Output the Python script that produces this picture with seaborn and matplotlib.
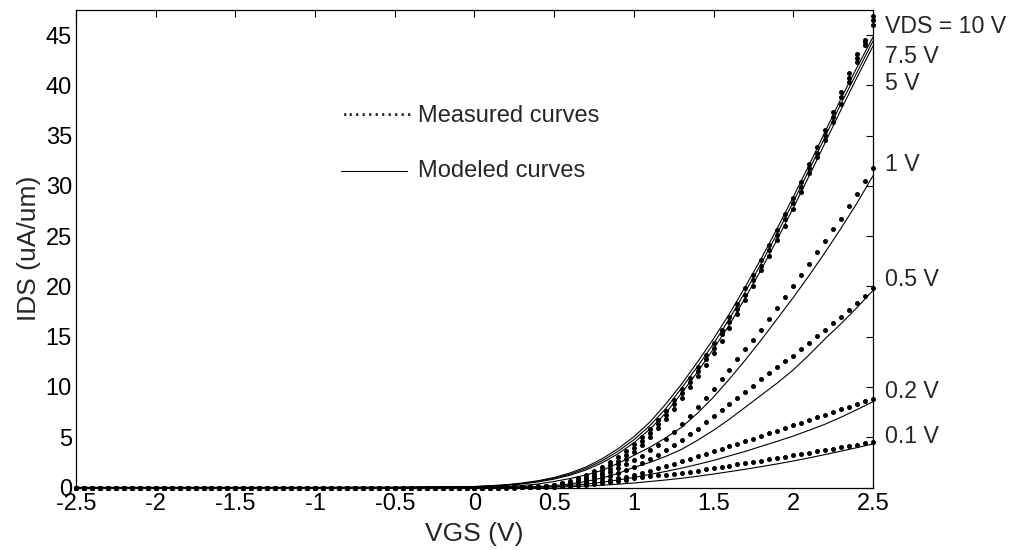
import numpy as np
import pandas as pd
import matplotlib
matplotlib.use("Agg")
import matplotlib.pyplot as plt
import seaborn as sns

# drain voltages (V) for each curve
vds_values = ["10", "7.5", "5", "1", "0.5", "0.2", "0.1"]
vds_labels = ["VDS = 10 V", "7.5 V", "5 V", "1 V", "0.5 V", "0.2 V", "0.1 V"]
label_y = [45.85, 42.9, 40.15, 32.1, 20.65, 9.53, 5.06]

# measured sweep: VGS from -2.5 to 2.5 in 0.05 V steps
vgs_meas = np.round(np.linspace(-2.5, 2.5, 101), 2)
off_state = [0, 0, 0, 0, 0, 0, 0, 0, 0, 0, 0, 0, 0, 0, 0, 0, 0, 0, 0, 0, 0, 0, 0, 0, 0,
             0, 0, 0, 0, 0, 0, 0, 0, 0, 0, 0, 0, 0, 0, 0, 0, 0, 0, 0, 0, 0, 0, 0, 0, 0]

meas_10 = off_state + [0, 0, 0, 0.01, 0.01, 0.02, 0.04, 0.07, 0.12, 0.2, 0.3,
                       0.45, 0.65, 0.9, 1.2, 1.6, 2.0, 2.5, 3.0, 3.6, 4.3,
                       5.0, 5.8, 6.7, 7.6, 8.7, 9.8, 10.9, 12.0, 13.2, 14.4,
                       15.7, 17.0, 18.3, 19.8, 21.1, 22.6, 24.1, 25.6, 27.2, 28.8,
                       30.4, 32.2, 33.9, 35.6, 37.4, 39.3, 41.2, 43.1, 44.5, 46.9]
meas_7p5 = off_state + [0, 0, 0, 0.01, 0.01, 0.02, 0.03, 0.06, 0.1, 0.17, 0.27,
                        0.4, 0.55, 0.75, 1.0, 1.35, 1.7, 2.2, 2.6, 3.2, 3.9,
                        4.6, 5.4, 6.3, 7.2, 8.3, 9.4, 10.5, 11.6, 12.8, 13.9,
                        15.3, 16.5, 17.8, 19.2, 20.6, 22.0, 23.6, 25.1, 26.7, 28.3,
                        29.9, 31.8, 33.3, 35.1, 36.9, 38.8, 40.7, 42.7, 44.3, 46.5]
meas_5 = off_state + [0, 0, 0, 0, 0.01, 0.015, 0.025, 0.05, 0.08, 0.14, 0.22,
                      0.3, 0.45, 0.6, 0.8, 1.1, 1.4, 1.8, 2.3, 2.8, 3.5,
                      4.2, 5.0, 5.9, 6.8, 7.8, 8.9, 10.0, 11.1, 12.2, 13.4,
                      14.6, 15.9, 17.3, 18.7, 20.0, 21.6, 23.0, 24.6, 26.0, 27.7,
                      29.4, 31.3, 32.9, 34.6, 36.4, 38.2, 40.3, 42.3, 44.0, 46.0]
meas_1 = off_state + [0, 0, 0, 0, 0.01, 0.02, 0.03, 0.05, 0.08, 0.13, 0.2,
                      0.28, 0.4, 0.55, 0.75, 1.0, 1.25, 1.55, 1.9, 2.3, 2.7,
                      3.1, 3.7, 4.2, 4.8, 5.5, 6.3, 7.1, 8.0, 8.9, 9.8,
                      10.8, 11.7, 12.8, 13.8, 14.7, 15.7, 16.8, 17.9, 19.0, 20.0,
                      21.1, 22.2, 23.4, 24.5, 25.7, 26.7, 28.0, 29.2, 30.5, 31.8]
meas_05 = off_state + [0, 0, 0, 0, 0.01, 0.01, 0.02, 0.04, 0.06, 0.09, 0.13,
                       0.19, 0.27, 0.38, 0.5, 0.7, 0.9, 1.1, 1.4, 1.7, 2.0,
                       2.4, 2.8, 3.2, 3.7, 4.2, 4.7, 5.3, 5.8, 6.5, 7.1,
                       7.7, 8.3, 8.9, 9.5, 10.1, 10.8, 11.4, 12.0, 12.6, 13.1,
                       13.8, 14.4, 15.1, 15.7, 16.4, 17.0, 17.7, 18.4, 19.1, 19.8]
meas_02 = off_state + [0, 0, 0, 0, 0, 0.01, 0.02, 0.03, 0.05, 0.07, 0.1,
                       0.15, 0.21, 0.29, 0.38, 0.48, 0.6, 0.75, 0.9, 1.05, 1.25,
                       1.45, 1.65, 1.9, 2.1, 2.35, 2.6, 2.8, 3.1, 3.35, 3.6,
                       3.85, 4.1, 4.35, 4.6, 4.85, 5.1, 5.4, 5.65, 5.9, 6.2,
                       6.45, 6.7, 7.0, 7.25, 7.5, 7.8, 8.05, 8.3, 8.6, 8.85]
meas_01 = off_state + [0, 0, 0, 0, 0, 0, 0.01, 0.02, 0.03, 0.05, 0.08,
                       0.11, 0.16, 0.22, 0.29, 0.37, 0.46, 0.56, 0.67, 0.78, 0.9,
                       1.0, 1.1, 1.2, 1.28, 1.36, 1.45, 1.57, 1.69, 1.81, 1.94,
                       2.06, 2.18, 2.3, 2.42, 2.54, 2.66, 2.79, 2.92, 3.06, 3.2,
                       3.33, 3.46, 3.59, 3.72, 3.86, 4.0, 4.13, 4.27, 4.42, 4.56]

# modeled curves
vgs_model = [-2.5, -2.0, -1.5, -1.0, -0.5, 0.0, 0.1, 0.2, 0.3, 0.4, 0.5, 0.6, 0.7, 0.8, 0.9, 1.0,
             1.1, 1.2, 1.3, 1.4, 1.5, 1.6, 1.7, 1.8, 1.9, 2.0, 2.1, 2.2, 2.3, 2.4, 2.5]
model_10 = [0, 0, 0, 0, 0.01, 0.1, 0.18, 0.28, 0.45, 0.68, 1.0, 1.45, 2.05, 2.85, 3.85, 5.05,
            6.5, 8.3, 10.3, 12.5, 14.8, 17.3, 20.0, 22.8, 25.8, 28.9, 32.1, 35.4, 38.7, 41.8, 44.8]
model_7p5 = [0, 0, 0, 0, 0.01, 0.09, 0.16, 0.25, 0.4, 0.62, 0.92, 1.33, 1.9, 2.65, 3.6, 4.75,
             6.15, 7.85, 9.9, 12.05, 14.3, 16.8, 19.5, 22.3, 25.3, 28.4, 31.6, 34.9, 38.2, 41.3, 44.4]
model_5 = [0, 0, 0, 0, 0.01, 0.08, 0.14, 0.22, 0.36, 0.56, 0.84, 1.22, 1.75, 2.45, 3.35, 4.45,
           5.8, 7.4, 9.4, 11.5, 13.8, 16.2, 18.9, 21.7, 24.7, 27.8, 31.0, 34.3, 37.6, 40.8, 43.9]
model_1 = [0, 0, 0, 0, 0, 0.03, 0.06, 0.1, 0.2, 0.35, 0.6, 0.9, 1.25, 1.7, 2.4, 3.2,
           4.0, 4.95, 6.0, 7.4, 9.0, 10.8, 12.7, 14.7, 16.8, 18.9, 21.1, 23.4, 25.8, 28.3, 31.0]
model_05 = [0, 0, 0, 0, 0, 0, 0.01, 0.02, 0.04, 0.09, 0.18, 0.35, 0.6, 0.95, 1.4, 2.0,
            2.5, 3.1, 3.8, 4.7, 5.7, 6.8, 8.0, 9.2, 10.4, 11.7, 13.2, 14.8, 16.3, 17.9, 19.6]
model_02 = [0, 0, 0, 0, 0, 0, 0, 0.01, 0.03, 0.06, 0.11, 0.2, 0.34, 0.52, 0.75, 1.0,
            1.3, 1.6, 1.93, 2.3, 2.7, 3.15, 3.6, 4.1, 4.6, 5.12, 5.7, 6.3, 7.0, 7.75, 8.54]
model_01 = [0, 0, 0, 0, 0, 0, 0, 0, 0.01, 0.03, 0.05, 0.09, 0.15, 0.23, 0.33, 0.45,
            0.6, 0.75, 0.92, 1.12, 1.34, 1.58, 1.82, 2.08, 2.35, 2.64, 2.95, 3.28, 3.62, 3.97, 4.33]

meas_series = [meas_10, meas_7p5, meas_5, meas_1, meas_05, meas_02, meas_01]
model_series = [model_10, model_7p5, model_5, model_1, model_05, model_02, model_01]

meas_df = pd.concat([pd.DataFrame({"VGS": vgs_meas, "IDS": s, "VDS": v})
                     for v, s in zip(vds_values, meas_series)], ignore_index=True)
model_df = pd.concat([pd.DataFrame({"VGS": vgs_model, "IDS": s, "VDS": v})
                      for v, s in zip(vds_values, model_series)], ignore_index=True)

sns.set_style("white")
plt.rcParams["font.family"] = ["Liberation Sans", "DejaVu Sans"]
plt.rcParams["axes.unicode_minus"] = False

fig = plt.figure(figsize=(10.16, 5.5), dpi=100)
ax = fig.add_axes([0.0748, 0.1136, 0.7844, 0.8682])

sns.lineplot(data=model_df, x="VGS", y="IDS", units="VDS", estimator=None,
             color="black", linewidth=0.8, ax=ax)
sns.scatterplot(data=meas_df, x="VGS", y="IDS", color="black", s=13,
                linewidth=0, ax=ax, zorder=3, clip_on=False)

ax.set_xlim(-2.5, 2.5)
ax.set_ylim(0, 47.5)
ax.set_xticks(np.arange(-2.5, 2.51, 0.5))
ax.set_yticks(np.arange(0, 46, 5))
ax.xaxis.set_major_formatter(matplotlib.ticker.FuncFormatter(lambda v, p: f"{v:g}"))
ax.tick_params(direction="in", length=5, width=0.8, top=True, right=True,
               labelsize=17, colors="black")
ax.tick_params(axis="x", pad=4)
ax.tick_params(axis="y", pad=3)
for sp in ax.spines.values():
    sp.set_color("black")
    sp.set_linewidth(0.9)

ax.set_xlabel("VGS (V)", fontsize=19, labelpad=5)
ax.set_ylabel("IDS (uA/um)", fontsize=19, labelpad=3)

# curve labels at the right edge
for txt, yv in zip(vds_labels, label_y):
    ax.text(2.575, yv, txt, fontsize=16.7, va="center", ha="left", clip_on=False)

# hand-drawn legend
ax.text(0.333, 0.779, "...........", transform=ax.transAxes, fontsize=17, va="baseline")
ax.text(0.429, 0.779, "Measured curves", transform=ax.transAxes, fontsize=17, va="center")
ax.plot([0.333, 0.415], [0.663, 0.663], transform=ax.transAxes, color="black", linewidth=0.8)
ax.text(0.429, 0.663, "Modeled curves", transform=ax.transAxes, fontsize=17, va="center")

fig.savefig("out.png", dpi=100)
